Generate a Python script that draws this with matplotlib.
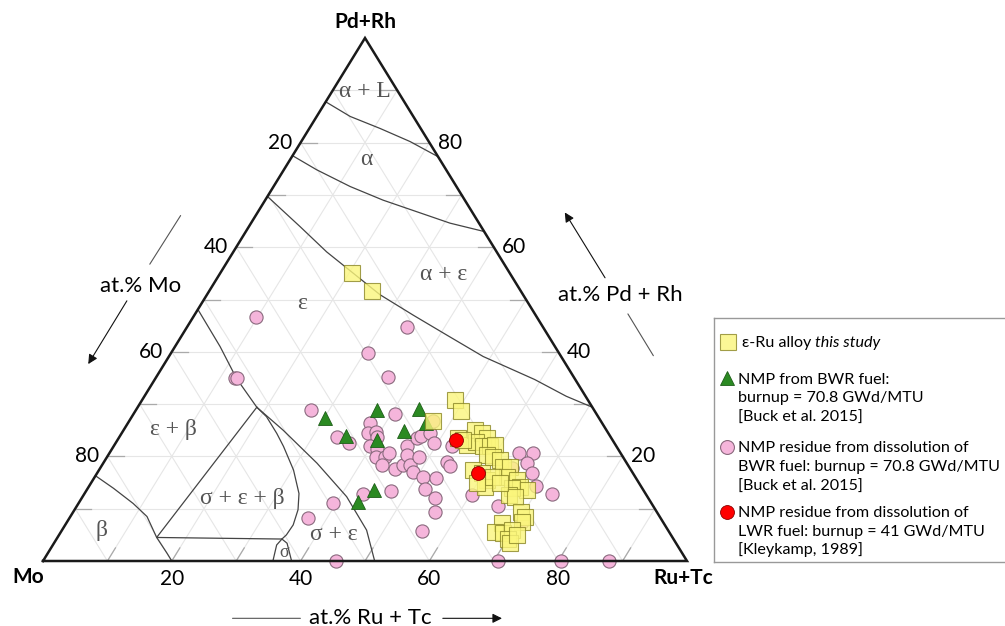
import numpy as np
import matplotlib.pyplot as plt

# Compositions in at.%: (Ru+Tc, Pd+Rh); Mo is the remainder
eru_ru = [20.4, 25.2, 47.1, 48.6, 50.5, 52.7, 54.7, 54.6, 55.9, 57.2,
          55.9, 57.4, 58.5, 59.1, 58.8, 60.0, 61.3, 62.5, 63.5, 64.0,
          65.8, 67.0, 68.3, 65.8, 66.0, 67.1, 58.1, 59.7, 61.2, 61.5,
          61.9, 63.5, 69.6, 70.6, 70.6, 67.6, 67.4, 68.8, 69.8, 70.1,
          70.8, 71.1, 53.7, 59.9]
eru_pd = [55.1, 51.7, 26.8, 30.8, 28.7, 23.5, 22.2, 25.0, 24.4, 23.5,
          22.8, 21.9, 21.9, 22.2, 20.3, 19.9, 19.3, 18.0, 18.0, 16.1,
          15.5, 14.2, 13.6, 13.9, 12.6, 12.3, 17.4, 16.8, 15.5, 14.2,
          16.1, 14.9, 9.4, 8.5, 7.5, 7.2, 5.6, 5.3, 5.9, 4.3,
          3.4, 5.0, 23.1, 14.9]

bwr_ru = [30.1, 37.4, 43.9, 35.1, 40.3, 43.6, 46.3, 44.6, 43.2]
bwr_pd = [27.3, 28.9, 29.0, 23.9, 23.1, 24.9, 26.4, 13.6, 11.3]

res_ru = [30.6, 36.0, 27.1, 40.6, 33.8, 36.2, 37.7, 38.3, 39.4, 39.9,
          39.8, 41.1, 41.8, 43.2, 43.4, 43.4, 45.9, 46.7, 45.5, 46.3,
          47.8, 48.9, 48.5, 46.3, 46.7, 47.9, 49.5, 51.0, 53.2, 52.4,
          54.8, 56.2, 55.9, 47.4, 43.3, 39.6, 37.0, 45.5, 53.2, 54.1,
          52.5, 60.3, 65.4, 70.7, 80.5, 87.9, 63.5, 65.8, 65.8, 67.5,
          69.4, 72.6, 63.9, 9.7, 34.1, 12.4, 12.7, 70.6, 47.1]
res_pd = [39.8, 35.2, 28.9, 28.1, 23.8, 22.5, 26.3, 24.4, 24.7, 23.8,
          21.9, 21.5, 19.9, 19.9, 20.7, 18.4, 17.5, 18.4, 22.0, 20.3,
          18.4, 17.1, 19.8, 23.5, 23.9, 24.4, 22.5, 16.1, 15.8, 13.7,
          12.0, 9.4, 5.8, 13.3, 12.9, 11.0, 8.3, 0.0, 19.0, 18.2,
          21.9, 12.6, 10.5, 0.0, 0.0, 0.0, 20.7, 20.7, 18.7, 16.8,
          14.3, 12.8, 17.7, 46.7, 44.8, 34.9, 34.9, 7.5, 26.8]

lwr_ru = [52.6, 59.1]
lwr_pd = [23.1, 16.9]

# phase boundaries (Ru+Tc, Pd+Rh)
boundaries = [
    ([0, 5.2, 11.0, 16.9, 22.7], [87.8, 85.0, 82.7, 80.2, 77.3]),
    ([0, 5.1, 11.9, 18.3, 24.6, 30.9, 37.0], [77.5, 74.8, 71.6, 69.0, 66.8, 64.6, 63.0]),
    ([0, 8.0, 14.5, 20.7, 26.9, 34.0, 41.1, 48.8, 59.0, 65.5, 70.6],
     [69.7, 63.9, 59.1, 55.0, 50.9, 47.0, 43.2, 39.1, 34.7, 31.5, 29.4]),
    ([0, 7.0, 12.6, 18.5], [48.1, 41.0, 34.9, 29.4]),
    ([18.5, 15.4, 35.0], [29.4, 4.5, 4.2]),
    ([18.5, 20.9, 24.1, 26.4, 30.2, 33.3, 34.7, 35.4, 35.3, 35.0],
     [29.4, 27.6, 24.4, 21.9, 17.4, 12.9, 9.8, 6.9, 5.0, 4.2]),
    ([18.5, 24.8, 33.2, 41.0, 47.3, 51.5], [29.4, 25.0, 18.7, 12.3, 5.9, 0]),
    ([0, 4.0, 8.5, 11.9, 15.4, 18.5, 20.0], [16.3, 13.9, 11.0, 8.5, 4.5, 1.5, 0]),
    ([35.7, 34.75, 35.0, 36.2, 38.6], [0, 3.06, 4.2, 3.4, 0]),
]

phase_names = ["α + L", "α", "α + ε", "ε", "ε + β", "σ + ε + β", "β", "σ + ε", "σ"]
phase_ru = [5.2, 11.9, 34.8, 15.5, 7.6, 24.9, 6.2, 42.6, 36.7]
phase_pd = [89.7, 76.7, 54.7, 49.3, 25.2, 12.0, 5.9, 5.0, 1.6]
phase_size = [17, 17, 17, 17, 17, 17, 17, 17, 13]

tick_values = [20, 40, 60, 80]


def tern(ru, pd):
    ru = np.asarray(ru, dtype=float) / 100
    pd = np.asarray(pd, dtype=float) / 100
    return ru + pd / 2, pd


SANS = ["Lato", "DejaVu Sans"]
SERIF = ["Liberation Serif", "DejaVu Serif"]

fig = plt.figure(figsize=(10.05, 6.26), dpi=100)
ax = fig.add_axes([43 / 1005, 65 / 626, 644 / 1005, 523 / 626])
ax.set_xlim(0, 1)
ax.set_ylim(0, 1)
ax.axis("off")

# light grid every 10 %
for k in range(10, 100, 10):
    for ru, pd in (([0, 100 - k], [k, k]),
                   ([k, k], [0, 100 - k]),
                   ([100 - k, 0], [0, 100 - k])):
        x, y = tern(ru, pd)
        ax.plot(x, y, color="#e6e6e6", lw=0.8, zorder=1)
    # short ticks on the edges
    x, y = tern([0, 2.5], [k, k])
    ax.plot(x, y, color="#aaaaaa", lw=0.9, zorder=1)
    x, y = tern([100 - k, 97.5 - k], [k, k])
    ax.plot(x, y, color="#aaaaaa", lw=0.9, zorder=1)
    x, y = tern([k, k], [0, 2.5])
    ax.plot(x, y, color="#aaaaaa", lw=0.9, zorder=1)

# phase boundaries
for ru, pd in boundaries:
    x, y = tern(ru, pd)
    ax.plot(x, y, color="#444444", lw=0.9, zorder=2)

# triangle frame
x, y = tern([0, 100, 0, 0], [0, 0, 100, 0])
ax.plot(x, y, color="#1a1a1a", lw=1.8, zorder=6, clip_on=False,
        solid_joinstyle="miter")

for name, ru, pd, fs in zip(phase_names, phase_ru, phase_pd, phase_size):
    x, y = tern(ru, pd)
    ax.text(x, y, name, family=SERIF, fontsize=fs, color="#555555",
            ha="center", va="center", zorder=3)

# data
x, y = tern(res_ru, res_pd)
ax.plot(x, y, "o", ms=9.5, mfc="#f5b5db", mec="#8a6a7e", mew=0.8,
        zorder=4, clip_on=False)
x, y = tern(bwr_ru, bwr_pd)
ax.plot(x, y, "^", ms=10.5, mfc="#2b8a22", mec="#1d5e18", mew=0.6,
        zorder=5, clip_on=False)
x, y = tern(eru_ru, eru_pd)
ax.plot(x, y, "s", ms=11.5, mfc="#fbf67c", mec="#8a8626", mew=0.8,
        alpha=0.8, zorder=5, clip_on=False)
x, y = tern(lwr_ru, lwr_pd)
ax.plot(x, y, "o", ms=10, mfc="#ff0000", mec="#8a0000", mew=0.6,
        zorder=7, clip_on=False)

# edge tick labels
for k in tick_values:
    ax.annotate(str(k), tern(0, 100 - k), xytext=(-6, 0),
                textcoords="offset points", ha="right", va="center",
                family=SANS, fontsize=15)
    ax.annotate(str(100 - k), tern(k, 100 - k), xytext=(6, 0),
                textcoords="offset points", ha="left", va="center",
                family=SANS, fontsize=15)
    ax.annotate(str(k), tern(k, 0), xytext=(0, -13),
                textcoords="offset points", ha="center", va="center",
                family=SANS, fontsize=15)

# corner labels
ax.text(0.5, 1.031, "Pd+Rh", ha="center", va="center", family=SANS,
        fontsize=15, fontweight="bold")
ax.text(-0.023, -0.031, "Mo", ha="center", va="center", family=SANS,
        fontsize=15, fontweight="bold")
ax.text(0.994, -0.032, "Ru+Tc", ha="center", va="center", family=SANS,
        fontsize=15, fontweight="bold")

# axis titles with arrows
arrow = dict(arrowstyle="-|>", color="#111111", lw=0.8, mutation_scale=14)
line = dict(arrowstyle="-", color="#555555", lw=0.8)

ax.text(0.151, 0.526, "at.% Mo", ha="center", va="center", family=SANS,
        fontsize=16, clip_on=False)
ax.annotate("", xy=(0.1635, 0.563), xytext=(0.216, 0.665),
            arrowprops=line, annotation_clip=False)
ax.annotate("", xy=(0.068, 0.372), xytext=(0.1325, 0.502),
            arrowprops=arrow, annotation_clip=False)

ax.text(0.896, 0.509, "at.% Pd + Rh", ha="center", va="center", family=SANS,
        fontsize=16, clip_on=False)
ax.annotate("", xy=(0.808, 0.671), xytext=(0.875, 0.537),
            arrowprops=arrow, annotation_clip=False)
ax.annotate("", xy=(0.950, 0.388), xytext=(0.906, 0.477),
            arrowprops=line, annotation_clip=False)

ax.text(0.508, -0.109, "at.% Ru + Tc", ha="center", va="center", family=SANS,
        fontsize=16, clip_on=False)
ax.annotate("", xy=(0.404, -0.1096), xytext=(0.290, -0.1096),
            arrowprops=line, annotation_clip=False)
ax.annotate("", xy=(0.717, -0.1096), xytext=(0.6165, -0.1096),
            arrowprops=arrow, annotation_clip=False)

# legend box, cut by the right edge of the figure
lax = fig.add_axes([714 / 1005, 64 / 626, 0.40, 244 / 626])
lax.set_xlim(0, 1)
lax.set_ylim(0, 1)
lax.set_xticks([])
lax.set_yticks([])
for sp in lax.spines.values():
    sp.set_color("#999999")
    sp.set_linewidth(1.0)

LFS = 11.6
lax.plot(0.0356, 0.903, "s", ms=11.5, mfc="#fbf67c", mec="#8a8626", mew=0.8,
         alpha=0.8)
t1 = lax.text(0.0689, 0.903, "ε-Ru alloy ", family=SANS, fontsize=LFS,
              va="center_baseline")
lax.annotate("this study", xy=(1, 0), xycoords=t1, va="bottom",
             family=SANS, fontsize=LFS, style="italic")

lax.plot(0.0331, 0.753, "^", ms=10.5, mfc="#2b8a22", mec="#1d5e18", mew=0.6)
lax.plot(0.0316, 0.4725, "o", ms=10, mfc="#f5b5db", mec="#8a6a7e", mew=0.8)
lax.plot(0.0316, 0.206, "o", ms=10, mfc="#ff0000", mec="#8a0000", mew=0.6)

entries = [
    (["NMP from BWR fuel:", "burnup = 70.8 GWd/MTU", "[Buck et al. 2015]"],
     [0.753, 0.6775, 0.598]),
    (["NMP residue from dissolution of", "BWR fuel: burnup = 70.8 GWd/MTU",
      "[Buck et al. 2015]"], [0.4725, 0.3975, 0.316]),
    (["NMP residue from dissolution of", "LWR fuel: burnup = 41 GWd/MTU",
      "[Kleykamp, 1989]"], [0.206, 0.131, 0.057]),
]
for lines, ys in entries:
    for txt, yy in zip(lines, ys):
        lax.text(0.0604, yy, txt, family=SANS, fontsize=LFS,
                 va="center_baseline")

fig.savefig("out.png", dpi=100)
